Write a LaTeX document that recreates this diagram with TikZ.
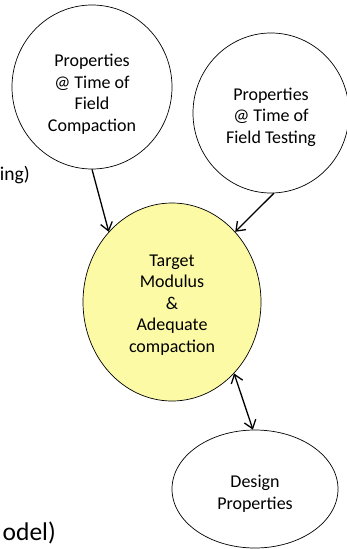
\documentclass[tikz,border=0pt]{standalone}
\usepackage{fontspec}
\setmainfont{Carlito}
\usetikzlibrary{shapes.geometric,arrows.meta}
\definecolor{paleyellow}{RGB}{252,250,165}
\tikzset{
  bubble/.style={draw=black,line width=0.7pt,ellipse,inner sep=0pt},
  btext/.style={inner sep=0pt,align=center,font=\fontsize{18}{21.5}\selectfont},
  barb/.tip={Straight Barb[length=8pt,width=12pt,line width=1.3pt]},
  conn/.style={line width=1.3pt,-barb},
  dconn/.style={line width=1.3pt,barb-barb},
  cut/.style={inner sep=0pt}
}
\begin{document}
\begin{tikzpicture}[x=1pt,y=-1pt]
\useasboundingbox (0,0) rectangle (347,549);
\node[bubble,minimum width=160pt,minimum height=164pt] (c1) at (92,87) {};
\node[btext] (c1t) at (92,94) {Properties\\@ Time of\\Field\\Compaction};
\node[bubble,minimum width=156pt,minimum height=160pt] (c2) at (271,113) {};
\node[btext] (c2t) at (271,117) {Properties\\@ Time of\\Field Testing};
\node[bubble,fill=paleyellow,minimum width=178pt,minimum height=198pt] (y) at (172,302) {};
\node[btext] (yt) at (172,305) {Target\\Modulus\\\&\\Adequate\\compaction};
\node[bubble,minimum width=166pt,minimum height=118pt] (d) at (255,489) {};
\node[btext] (dt) at (255,494) {Design\\Properties};
\draw[conn] (c1.south) -- (y.132);
\draw[conn] (c2.-88) -- (y.48);
\draw[dconn] (y.-49) -- (d.92);
\node[cut,anchor=base east,font=\fontsize{19.5}{23}\selectfont] (t1) at (30,180) {ing)};
\node[cut,anchor=base east,font=\fontsize{25.5}{30}\selectfont] (t2) at (56,540) {odel)};
\end{tikzpicture}
\end{document}
